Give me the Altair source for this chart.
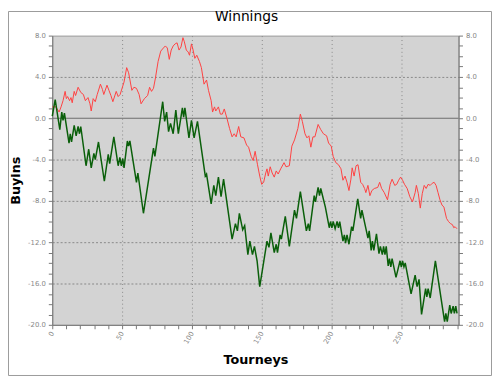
import altair as alt
import pandas as pd

# Cumulative winnings (buyins), as (tourney, value) vertices
green_t = [0.0, 2.1, 5.4, 6.8, 7.7, 8.7, 12.0, 12.9, 13.8, 15.7, 17.1, 18.5, 19.5, 20.4, 24.2, 26.1, 27.9,
           29.8, 30.8, 33.1, 37.3, 40.1, 41.1, 44.1, 47.2, 48.4, 49.5, 50.5, 51.4, 53.8, 54.7, 55.6, 60.3,
           61.3, 65.3, 72.5, 73.5, 79.1, 80.5, 81.9, 83.3, 84.7, 86.6, 88.5, 90.3, 93.2, 94.1, 95.0, 97.9,
           99.7, 101.6, 104.0, 109.6, 110.5, 113.8, 115.7, 117.1, 119.0, 120.9, 122.7, 128.8, 131.2, 132.6,
           134.0, 136.4, 137.8, 140.1, 141.5, 143.4, 144.8, 146.7, 148.6, 153.8, 155.2, 156.6, 159.0, 160.4,
           161.3, 163.2, 164.1, 166.9, 169.8, 173.5, 174.9, 177.7, 182.0, 183.4, 184.3, 187.6, 188.5, 190.4,
           191.4, 192.3, 195.6, 198.4, 199.3, 200.3, 201.2, 202.6, 204.0, 205.0, 205.9, 208.2, 209.2, 210.1,
           211.1, 212.5, 214.4, 215.3, 218.8, 220.9, 221.8, 226.1, 227.0, 228.4, 229.3, 230.3, 232.2, 234.0,
           235.0, 236.4, 237.3, 238.3, 239.2, 240.6, 241.5, 242.5, 243.4, 246.2, 249.1, 250.0, 250.9, 251.9,
           252.8, 257.0, 259.9, 261.3, 262.7, 264.5, 267.4, 268.3, 269.2, 270.7, 274.4, 281.0, 281.9, 282.9,
           284.7, 285.7, 287.1, 288.0, 289.0, 289.9]
green_v = [0.2, 1.8, -1.1, 0.6, -0.2, 0.5, -2.4, -1.5, -2.3, -0.7, -1.7, -0.8, -1.5, -0.8, -4.6, -3.0, -4.8,
           -3.4, -4.0, -2.3, -6.1, -3.5, -4.4, -1.8, -4.6, -3.8, -4.6, -3.9, -4.8, -2.2, -2.7, -2.2, -6.2,
           -5.3, -9.2, -2.9, -3.7, 1.6, -0.3, 0.6, -1.3, -0.5, -1.5, 0.8, -1.5, 1.0, 0.1, 1.0, -1.9,
           -0.2, -1.9, -0.3, -5.6, -5.4, -8.3, -6.5, -7.5, -5.7, -7.6, -5.9, -11.7, -10.2, -10.9,
           -9.2, -10.8, -10.4, -13.2, -11.9, -13.2, -12.4, -13.8, -16.3, -11.9, -12.5, -11.1, -13.0, -12.2,
           -13.0, -11.3, -11.7, -9.5, -12.4, -8.9, -9.7, -7.1, -10.9, -10.2, -10.9, -7.5, -8.1, -6.7,
           -7.5, -6.8, -8.6, -10.6, -10.0, -10.6, -10.0, -10.7, -10.0, -10.6, -10.0, -11.9, -11.3, -12.1,
           -11.3, -12.2, -10.5, -10.9, -7.8, -9.7, -8.9, -11.6, -10.9, -12.8, -11.9, -12.8, -11.2, -13.1,
           -12.4, -13.2, -12.4, -13.2, -12.4, -14.3, -13.6, -14.4, -13.6, -15.4, -13.8, -14.4, -13.8, -14.4,
           -14.0, -17.0, -15.2, -16.3, -15.6, -19.0, -16.5, -17.3, -16.5, -17.4, -13.8, -19.7, -18.9, -19.7,
           -18.1, -18.9, -18.2, -18.9, -18.2, -18.9]

red_t = [0.0, 2.6, 4.9, 6.3, 7.7, 9.2, 10.1, 11.0, 12.4, 13.4, 14.3, 15.7, 16.7, 18.5, 20.4, 22.3, 23.7,
         25.6, 27.0, 27.9, 29.3, 30.8, 32.2, 34.5, 35.9, 36.9, 39.2, 40.6, 42.0, 43.4, 45.8, 47.2, 48.6,
         51.4, 53.3, 54.7, 57.0, 58.5, 60.3, 62.2, 63.6, 66.0, 68.3, 69.7, 71.1, 72.5, 73.9, 75.8, 77.7,
         79.6, 81.0, 82.4, 83.8, 85.2, 86.6, 88.0, 89.4, 90.8, 92.2, 93.6, 94.6, 96.0, 97.4, 98.3, 99.7,
         100.7, 102.1, 103.5, 105.4, 106.8, 108.7, 110.5, 111.9, 113.8, 114.8, 116.2, 117.1, 119.0, 120.4,
         121.8, 123.2, 125.1, 127.0, 128.8, 130.3, 131.7, 133.5, 135.0, 137.3, 139.2, 140.6, 142.5, 143.9,
         145.3, 147.0, 148.6, 150.0, 151.4, 152.9, 153.8, 154.7, 156.1, 157.5, 159.0, 160.4, 161.8, 163.6,
         166.0, 167.4, 169.8, 171.6, 173.5, 175.9, 177.7, 179.1, 181.0, 182.4, 183.8, 185.2, 186.7, 188.1,
         190.4, 192.3, 194.2, 196.5, 197.9, 199.8, 201.2, 203.1, 205.0, 206.8, 208.2, 209.7, 211.1, 212.5,
         213.9, 214.8, 216.2, 217.6, 219.0, 220.9, 222.3, 223.7, 224.6, 226.1, 227.5, 228.9, 230.7, 233.1,
         234.5, 235.9, 237.8, 240.1, 242.0, 243.4, 245.3, 246.7, 248.1, 249.5, 250.9, 252.3, 254.2, 256.1,
         258.0, 259.9, 260.8, 262.2, 263.6, 265.0, 266.4, 267.8, 269.2, 270.7, 272.1, 273.5, 274.9, 276.3,
         277.7, 279.1, 280.5, 282.4, 283.8, 285.2, 286.6, 287.6, 288.5, 289.9]
red_v = [1.1, 1.1, 0.6, 1.1, 1.7, 2.6, 1.9, 2.1, 1.7, 2.0, 1.5, 2.6, 2.2, 3.0, 2.5, 2.3, 1.7,
         2.0, 1.4, 0.7, 1.9, 1.6, 2.3, 3.3, 2.8, 2.3, 3.2, 2.7, 2.2, 1.6, 2.6, 2.1, 2.3,
         3.5, 4.9, 4.4, 2.7, 3.0, 2.9, 2.3, 1.4, 1.9, 2.2, 3.0, 2.6, 2.9, 3.9, 5.5, 6.5,
         6.8, 7.0, 6.8, 5.7, 6.6, 7.0, 7.2, 7.3, 6.6, 6.9, 7.8, 7.4, 6.6, 6.4, 6.1, 7.2,
         6.7, 5.8, 6.1, 5.5, 4.9, 3.3, 3.7, 2.7, 1.7, 0.6, 1.1, 0.7, 1.1, 0.4,
         0.4, 0.9, 0.0, -1.0, -1.8, -1.5, -1.8, -0.8, -1.8, -1.9, -2.6, -2.8, -3.7, -4.1,
         -3.2, -4.5, -5.6, -6.4, -6.2, -5.3, -4.9, -5.6, -4.7, -5.3, -5.7, -5.1, -5.4, -4.9,
         -4.3, -4.7, -4.6, -2.7, -2.1, -1.0, 0.4, -0.3, -1.5, -1.9, -1.7, -2.8, -1.8, -1.8,
         -0.6, -1.1, -1.5, -1.7, -2.4, -2.7, -3.7, -4.3, -4.5, -4.9, -6.0, -5.6, -6.2, -7.0,
         -5.9, -4.8, -5.6, -4.6, -4.5, -6.2, -6.4, -6.8, -7.2, -6.5, -7.5, -7.0, -6.8, -6.7,
         -6.2, -6.8, -7.2, -7.9, -6.4, -5.9, -6.5, -6.4, -6.0, -5.7, -6.0, -6.4, -6.8, -7.6,
         -8.1, -7.2, -6.5, -7.3, -8.7, -7.3, -6.5, -6.8, -6.4, -6.5, -6.3, -6.2, -6.5, -7.2,
         -7.9, -8.4, -8.6, -9.7, -10.0, -10.2, -10.3, -10.6, -10.5, -10.7]

series_names = ["red", "green"]
series_colors = ["#ff4040", "#0a5f0a"]
x_ticks = list(range(0, 291, 10))
y_ticks = list(range(-20, 9, 1))

df = pd.concat([
    pd.DataFrame({"series": "red", "t": red_t, "v": red_v, "order": range(len(red_t))}),
    pd.DataFrame({"series": "green", "t": green_t, "v": green_v, "order": range(len(green_t))}),
])

W, H = 413, 294
FONT = "DejaVu Sans"

xscale = alt.Scale(domain=[0, 291], nice=False, zero=False)
yscale = alt.Scale(domain=[-20, 8], nice=False, zero=False)

label_expr_y = "datum.value % 4 === 0 ? replace(format(datum.value, '.1f'), '\u2212', '-') : ''"

x_axis = alt.Axis(
    values=x_ticks, title="Tourneys", labelAngle=300,
    labelExpr="datum.value % 50 === 0 ? format(datum.value, 'd') : ''",
    labelFontSize=7, labelColor="#888", labelFont=FONT, labelPadding=3,
    tickSize=4, tickColor="#777", domainColor="#777",
    grid=True, gridDash=[1, 3], gridColor="#888",
    gridOpacity={"condition": {"test": "datum.value % 50 === 0 && datum.value > 0", "value": 1}, "value": 0},
    titleFont=FONT, titleFontSize=13, titleFontWeight="bold", titleColor="#000",
    titleX=206.5, titleY=35, titleBaseline="middle", labelOverlap=False,
)

y_left = alt.Axis(
    values=y_ticks, title="Buyins", orient="left", labelExpr=label_expr_y,
    labelFontSize=7, labelColor="#888", labelFont=FONT, labelPadding=3,
    tickSize=4, tickColor="#777", domainColor="#777",
    grid=True, gridDash=[2, 2], gridColor="#888",
    gridOpacity={"condition": {"test": "datum.value % 4 === 0 && datum.value > -20 && datum.value < 8 && datum.value !== 0", "value": 1}, "value": 0},
    titleFont=FONT, titleFontSize=13, titleFontWeight="bold", titleColor="#000",
    titleX=-37, titleY=147, titleBaseline="middle", titleAngle=270, labelOverlap=False,
)

y_right = alt.Axis(
    values=y_ticks, title=None, orient="right", labelExpr=label_expr_y,
    labelFontSize=7, labelColor="#888", labelFont=FONT, labelPadding=3,
    tickSize=4, tickColor="#777", domainColor="#777", grid=False, labelOverlap=False,
)

base = alt.Chart(df)

zero = alt.Chart(pd.DataFrame({"z": [0]})).mark_rule(color="#6e6e6e", strokeWidth=1.2).encode(
    y=alt.Y("z:Q", scale=yscale, axis=y_right)
)

red = base.transform_filter("datum.series === 'red'").mark_line(strokeWidth=1, color=series_colors[0]).encode(
    x=alt.X("t:Q", scale=xscale, axis=x_axis),
    y=alt.Y("v:Q", scale=yscale, axis=y_left),
    order="order:Q",
)
green = base.transform_filter("datum.series === 'green'").mark_line(strokeWidth=1.5, color=series_colors[1]).encode(
    x=alt.X("t:Q", scale=xscale, axis=x_axis),
    y=alt.Y("v:Q", scale=yscale, axis=None),
    order="order:Q",
)

frame = alt.Chart(pd.DataFrame({"a": [0]})).mark_rect(
    fill=None, stroke="#9a9a9a", strokeWidth=1, clip=False
).encode(
    x=alt.value(-44.5), x2=alt.value(W + 33.5), y=alt.value(-24.5), y2=alt.value(H + 51.5)
)

chart = alt.layer(zero, red, green, frame).resolve_axis(y="independent").properties(
    width=W, height=H,
    title=alt.TitleParams("Winnings", font=FONT, fontSize=14, fontWeight="normal", color="#000",
                          anchor="middle", frame="group", dx=-9, offset=-13),
    autosize=alt.AutoSizeParams(type="none"),
    padding={"left": 45, "top": 25, "right": 34, "bottom": 52},
    background="white",
).configure_view(fill="#d3d3d3", stroke="#999")

chart.save("out.html", embed_options={"renderer": "svg", "actions": False})
